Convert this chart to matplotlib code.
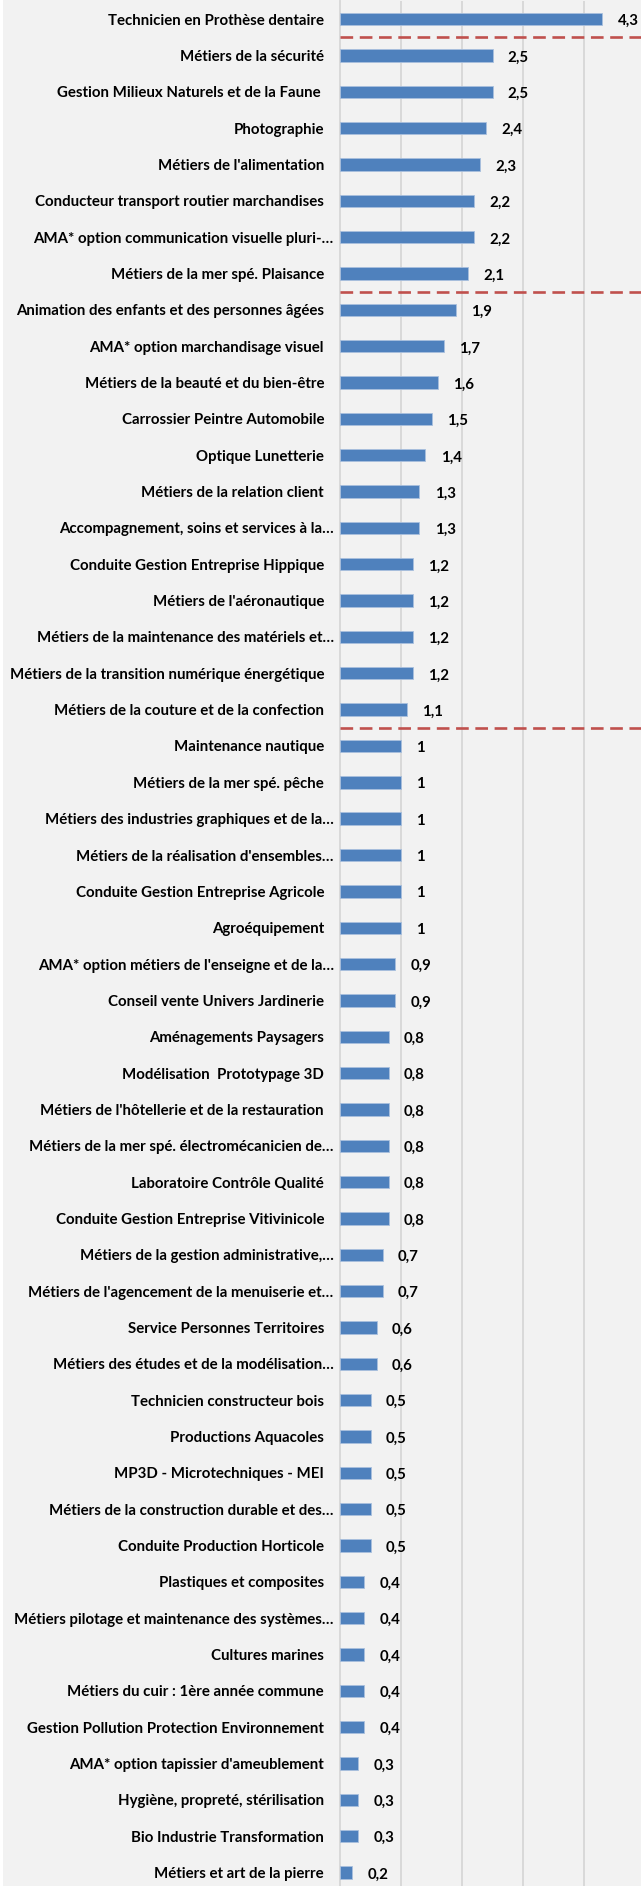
import matplotlib
matplotlib.use("Agg")
import matplotlib.pyplot as plt
from matplotlib.patches import Rectangle
from matplotlib.transforms import ScaledTranslation

categories = [
    "Technicien en Prothèse dentaire",
    "Métiers de la sécurité",
    "Gestion Milieux Naturels et de la Faune ",
    "Photographie",
    "Métiers de l'alimentation",
    "Conducteur transport routier marchandises",
    "AMA* option communication visuelle pluri-…",
    "Métiers de la mer spé. Plaisance",
    "Animation des enfants et des personnes âgées",
    "AMA* option marchandisage visuel",
    "Métiers de la beauté et du bien-être",
    "Carrossier Peintre Automobile",
    "Optique Lunetterie",
    "Métiers de la relation client",
    "Accompagnement, soins et services à la…",
    "Conduite Gestion Entreprise Hippique",
    "Métiers de l'aéronautique",
    "Métiers de la maintenance des matériels et…",
    "Métiers de la transition numérique énergétique",
    "Métiers de la couture et de la confection",
    "Maintenance nautique",
    "Métiers de la mer spé. pêche",
    "Métiers des industries graphiques et de la…",
    "Métiers de la réalisation d'ensembles…",
    "Conduite Gestion Entreprise Agricole",
    "Agroéquipement",
    "AMA* option métiers de l'enseigne et de la…",
    "Conseil vente Univers Jardinerie",
    "Aménagements Paysagers",
    "Modélisation  Prototypage 3D",
    "Métiers de l'hôtellerie et de la restauration",
    "Métiers de la mer spé. électromécanicien de…",
    "Laboratoire Contrôle Qualité",
    "Conduite Gestion Entreprise Vitivinicole",
    "Métiers de la gestion administrative,…",
    "Métiers de l'agencement de la menuiserie et…",
    "Service Personnes Territoires",
    "Métiers des études et de la modélisation…",
    "Technicien constructeur bois",
    "Productions Aquacoles",
    "MP3D - Microtechniques - MEI",
    "Métiers de la construction durable et des…",
    "Conduite Production Horticole",
    "Plastiques et composites",
    "Métiers pilotage et maintenance des systèmes…",
    "Cultures marines",
    "Métiers du cuir : 1ère année commune",
    "Gestion Pollution Protection Environnement",
    "AMA* option tapissier d'ameublement",
    "Hygiène, propreté, stérilisation",
    "Bio Industrie Transformation",
    "Métiers et art de la pierre",
]

values = [
    4.3, 2.5, 2.5, 2.4, 2.3, 2.2, 2.2, 2.1,
    1.9, 1.7, 1.6, 1.5, 1.4, 1.3, 1.3, 1.2, 1.2, 1.2, 1.2, 1.1,
    1.0, 1.0, 1.0, 1.0, 1.0, 1.0, 0.9, 0.9, 0.8, 0.8, 0.8, 0.8, 0.8, 0.8,
    0.7, 0.7, 0.6, 0.6, 0.5, 0.5, 0.5, 0.5, 0.5,
    0.4, 0.4, 0.4, 0.4, 0.4, 0.3, 0.3, 0.3, 0.2,
]

# group boundaries (after these category indices)
separators_after = [0, 7, 19]

BG = "#f2f2f2"
BAR = "#4f81bd"
GRID = "#d9d9d9"
SEP = "#c0504d"
FONT = ["Lato", "DejaVu Sans"]
FS = 10.8

fig = plt.figure(figsize=(6.41, 18.86), dpi=100, facecolor=BG)
# thin white margin on the left edge
fig.patches.append(Rectangle((0, 0), 3 / 641, 1, transform=fig.transFigure,
                             facecolor="white", edgecolor="none", zorder=0))

ax = fig.add_axes([340 / 641, 0.0, 1 - 340 / 641, 1 - 1 / 1886])
ax.set_facecolor(BG)

y = list(range(len(categories)))
ax.barh(y, values, height=0.34, color=BAR, edgecolor="#a9c0de",
        linewidth=0.6, zorder=3)

ax.set_xlim(0, (641 - 340) / 61)
ax.set_ylim(51.37, -0.5)
ax.set_xticks([1, 2, 3, 4])
ax.xaxis.grid(True, color=GRID, linewidth=1.4, zorder=0)
ax.tick_params(axis="x", length=0, labelbottom=False)
ax.tick_params(axis="y", length=0, pad=11.5)

for s in ["top", "right", "bottom"]:
    ax.spines[s].set_visible(False)
ax.spines["left"].set_color(GRID)
ax.spines["left"].set_linewidth(1.4)

ax.set_yticks(y)
ax.set_yticklabels(categories, fontsize=FS, fontweight="bold", family=FONT)
for lab in ax.get_yticklabels():
    if lab.get_text().endswith("…"):
        lab.set_transform(lab.get_transform()
                          + ScaledTranslation(7 / 72, 0, fig.dpi_scale_trans))

# dashed separators between groups
for i in separators_after:
    ax.axhline(i + 0.5, color=SEP, linewidth=1.9, linestyle=(0, (4.8, 2.5)),
               zorder=4)

for yi, v in zip(y, values):
    txt = f"{v:g}".replace(".", ",")
    ax.annotate(txt, xy=(v, yi), xytext=(11, -1.5), textcoords="offset points",
                ha="left", va="center", fontsize=FS, fontweight="bold",
                family=FONT, color="black")

fig.savefig("out.png", dpi=100, facecolor=BG)
